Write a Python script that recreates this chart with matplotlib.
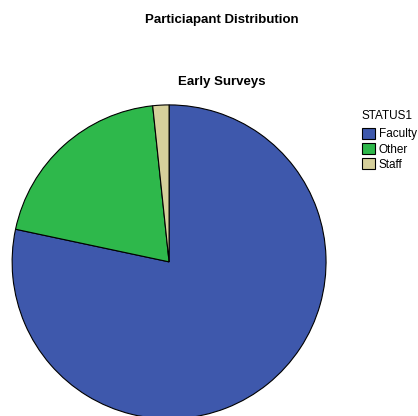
import matplotlib
matplotlib.use('Agg')
import matplotlib.pyplot as plt

categories = ['Faculty', 'Other', 'Staff']
counts = [47, 12, 1]
colors = ['#3e58ac', '#2eb84b', '#d6d09b']

plt.rcParams['font.family'] = ['Liberation Sans', 'DejaVu Sans']

fig = plt.figure(figsize=(4.18, 4.16), dpi=100)
fig.text(0.53, 0.953, 'Particiapant Distribution', ha='center', va='center',
         fontsize=9.5, fontweight='bold')
fig.text(0.53, 0.802, 'Early Surveys', ha='center', va='center',
         fontsize=9.5, fontweight='bold')

ax = fig.add_axes([0.029, -0.007, 0.751, 0.755])
wedges, _ = ax.pie(counts, colors=colors, startangle=90, counterclock=False,
                   wedgeprops={'edgecolor': 'black', 'linewidth': 0.8})
ax.set_xlim(-1, 1)
ax.set_ylim(-1, 1)
ax.set_aspect('equal')
for w in wedges:
    w.set_clip_on(False)

leg = fig.legend(wedges, categories, title='STATUS1', loc='upper left',
                 bbox_to_anchor=(0.866, 0.735), frameon=False, fontsize=8.5,
                 title_fontsize=8.5, handlelength=1.1, handleheight=1.1,
                 handletextpad=0.3, labelspacing=0.2, borderpad=0,
                 borderaxespad=0)
leg._legend_box.align = 'left'
leg._legend_box.sep = 4

fig.savefig('out.png', dpi=100)
